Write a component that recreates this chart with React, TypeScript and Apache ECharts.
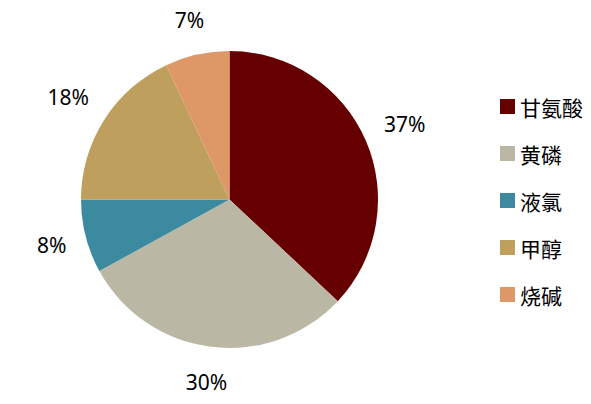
import React, { useEffect, useRef } from "react";
import * as echarts from "echarts";

const categories = ["甘氨酸", "黄磷", "液氯", "甲醇", "烧碱"];
const values = [37, 30, 8, 18, 7];
const colors = ["#660000", "#BAB8A5", "#3C8A9F", "#BE9F5E", "#DE9766"];
// labels that sit a little further from the pie (wide, sideways labels)
const farLabels = ["甘氨酸", "甲醇"];

export default function App() {
  const ref = useRef<HTMLDivElement>(null);
  useEffect(() => {
    if (!ref.current) return;
    const chart = echarts.init(ref.current, null, { renderer: "svg" });
    const center = [229.5, 199.5];
    const mainData = categories.map((name, i) => ({
      name,
      value: values[i],
      itemStyle: { color: colors[i] },
    }));
    const labelSeries = (far: boolean, radius: number[]) => ({
      type: "pie",
      center,
      radius,
      startAngle: 90,
      clockwise: true,
      silent: true,
      labelLine: { show: false },
      label: {
        show: true,
        position: "inside",
        formatter: "{c}%",
        fontSize: 21,
        color: "#000",
        fontFamily: "Noto Sans",
      },
      data: categories.map((name, i) => ({
        name,
        value: values[i],
        itemStyle: { color: "rgba(0,0,0,0)" },
        label: { show: farLabels.includes(name) === far },
      })),
    });
    chart.setOption({
      animation: false,
      color: colors,
      legend: {
        orient: "vertical",
        left: 500,
        top: 96,
        padding: 0,
        itemWidth: 15,
        itemHeight: 15,
        itemGap: 26,
        icon: "rect",
        data: categories,
        textStyle: {
          fontSize: 21,
          lineHeight: 21,
          color: "#000",
          fontFamily: "Noto Sans CJK SC",
        },
      },
      series: [
        {
          type: "pie",
          center,
          radius: 148.5,
          startAngle: 90,
          clockwise: true,
          label: { show: false },
          labelLine: { show: false },
          data: mainData,
        },
        labelSeries(false, [165, 196]),
        labelSeries(true, [172, 204]),
      ],
    });
    return () => chart.dispose();
  }, []);
  return (
    <div
      ref={ref}
      style={{ position: "absolute", left: 0, top: 0, width: 591, height: 404, background: "#fff" }}
    />
  );
}
